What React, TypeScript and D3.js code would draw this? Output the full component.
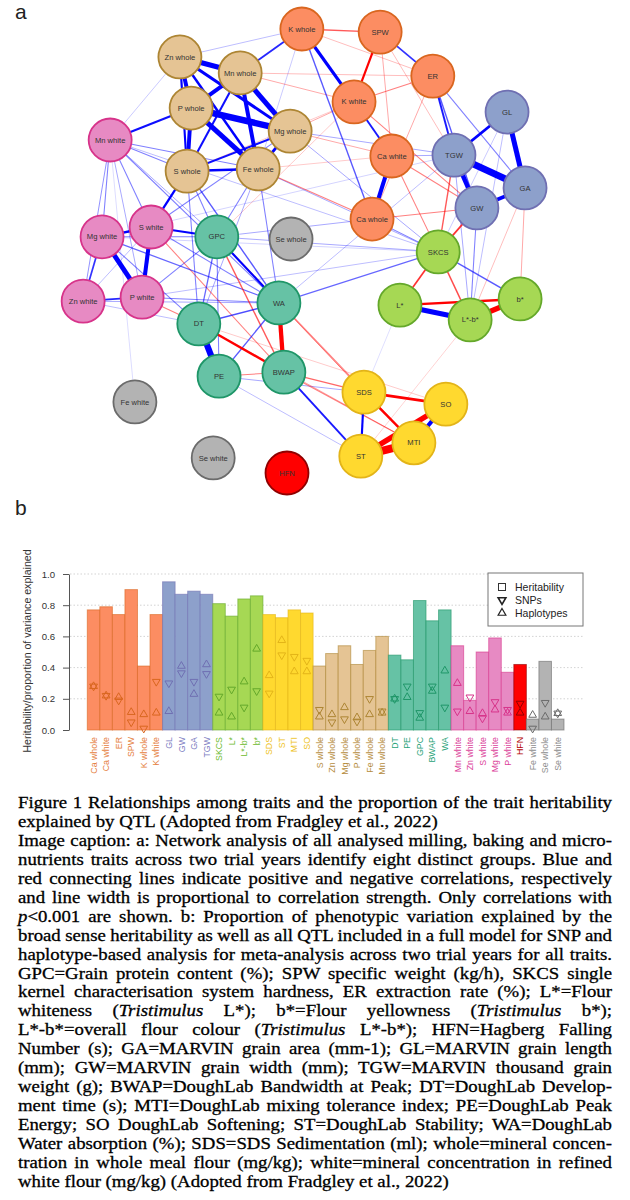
import { useEffect, useRef } from "react";
import * as d3 from "d3";

// ---- network data (layout units 0..100) ----
const nodeNames = [
  "K whole", "Zn whole", "Mn whole", "P whole", "Mg whole", "Mn white", "S whole", "Fe whole",
  "S white", "Mg white", "GPC", "Se whole", "SPW", "ER", "K white", "GL", "TGW", "Ca white",
  "GA", "GW", "Ca whole", "Zn white", "P white", "DT", "WA", "PE", "BWAP", "Fe white",
  "Se white", "HFN", "SKCS", "L*", "L*-b*", "b*", "SDS", "SO", "MTI", "ST",
];
const nodeGroups = [
  "orange", "tan", "tan", "tan", "tan", "pink", "tan", "tan",
  "pink", "pink", "teal", "gray", "orange", "orange", "orange", "blue", "blue", "orange",
  "blue", "blue", "orange", "pink", "pink", "teal", "teal", "teal", "teal", "gray",
  "gray", "red", "green", "green", "green", "green", "yellow", "yellow", "yellow", "yellow",
];
const layoutX = [
  49.3, 22.2, 35.6, 24.7, 46.7, 6.7, 23.8, 39.6,
  15.8, 4.9, 30.4, 46.9, 66.7, 78.4, 60.9, 94.9, 83.1, 69.3,
  98.9, 88.2, 64.9, 0.7, 13.8, 26.4, 44.2, 30.9, 45.3, 12.2,
  29.6, 46.0, 79.6, 71.1, 86.7, 97.8, 63.1, 81.3, 74.2, 62.4,
];
const layoutY = [
  0, 6.3, 9.9, 17.8, 23.0, 25.0, 32.0, 31.5,
  44.6, 46.8, 46.8, 47.3, 0.7, 10.6, 16.4, 18.7, 28.4, 28.6,
  35.8, 40.3, 42.8, 61.3, 60.4, 66.4, 61.7, 78.2, 77.3, 84.0,
  96.6, 100, 50.2, 62.2, 65.5, 60.8, 81.8, 84.5, 93.2, 96.2,
];

// correlations (sign = direction, magnitude = strength)
const edges: [string, string, number][] = [
  ["Zn whole", "Mn whole", 0.67], ["Zn whole", "P whole", 0.57], ["Zn whole", "Mg whole", 0.48],
  ["Zn whole", "Fe whole", 0.43], ["Zn whole", "S whole", 0.4], ["Mn whole", "P whole", 0.57],
  ["Mn whole", "Mg whole", 0.67], ["Mn whole", "Fe whole", 0.57], ["Mn whole", "S whole", 0.39],
  ["P whole", "Mg whole", 0.8], ["P whole", "Fe whole", 0.67], ["P whole", "S whole", 0.57],
  ["Mg whole", "Fe whole", 0.48], ["Mg whole", "S whole", 0.39], ["S whole", "Fe whole", 0.43],
  ["K whole", "Mn whole", 0.37], ["K whole", "Zn whole", 0.27], ["Mn white", "P whole", 0.39],
  ["Mn white", "Zn whole", 0.26], ["S whole", "S white", 0.41], ["S whole", "GPC", 0.3],
  ["Fe whole", "GPC", 0.3], ["Mn whole", "K white", -0.28], ["K whole", "Fe whole", 0.26],
  ["K whole", "SPW", -0.33], ["K whole", "K white", 0.5], ["SPW", "K white", -0.4],
  ["SPW", "ER", 0.36], ["K white", "Ca white", 0.38], ["Ca white", "Ca whole", 0.58],
  ["K white", "ER", -0.3], ["K whole", "ER", -0.27], ["SPW", "Ca white", -0.28],
  ["SPW", "TGW", -0.27], ["ER", "Ca whole", -0.28], ["ER", "TGW", 0.38], ["ER", "GW", 0.33],
  ["ER", "GA", 0.3], ["K whole", "Ca whole", 0.33], ["K white", "GW", -0.3],
  ["Ca white", "GW", -0.3], ["Ca white", "SKCS", -0.3], ["Ca whole", "GW", -0.3],
  ["Ca white", "TGW", 0.28], ["Ca whole", "SKCS", 0.3],
  ["GL", "TGW", 0.45], ["GL", "GA", 0.67], ["TGW", "GA", 0.85], ["TGW", "GW", 0.62],
  ["GW", "GA", 0.55], ["TGW", "SKCS", -0.33], ["GW", "SKCS", -0.36], ["GW", "L*-b*", 0.3],
  ["GA", "b*", -0.28], ["TGW", "L*-b*", 0.28], ["GL", "L*-b*", 0.27], ["GL", "SKCS", 0.26],
  ["GA", "L*-b*", -0.27],
  ["SKCS", "L*", -0.36], ["SKCS", "L*-b*", -0.34], ["SKCS", "b*", 0.33], ["L*", "L*-b*", 0.67],
  ["L*-b*", "b*", -0.7], ["L*", "b*", -0.42], ["SKCS", "WA", 0.32], ["SKCS", "GPC", 0.28],
  ["S white", "Mg white", 0.42], ["S white", "P white", 0.58], ["Mg white", "P white", 0.65],
  ["Mg white", "Zn white", 0.36], ["Zn white", "P white", 0.37], ["Mn white", "Mg white", 0.3],
  ["Mn white", "Zn white", 0.29], ["Mn white", "S white", 0.3], ["Mn white", "P white", 0.28],
  ["S white", "Zn white", 0.27], ["S white", "GPC", 0.4], ["Mg white", "GPC", 0.3],
  ["P white", "GPC", 0.3], ["Fe white", "Mn white", 0.24], ["P white", "WA", 0.3],
  ["P white", "DT", -0.3], ["S white", "BWAP", -0.3], ["Mg white", "WA", 0.32],
  ["Mg white", "DT", 0.3], ["Zn white", "DT", 0.27],
  ["GPC", "WA", 0.4], ["GPC", "DT", 0.32], ["GPC", "PE", 0.3], ["GPC", "BWAP", -0.33],
  ["DT", "PE", 0.78], ["DT", "WA", 0.34], ["DT", "BWAP", -0.42], ["PE", "WA", 0.33],
  ["PE", "BWAP", -0.3], ["WA", "BWAP", -0.6], ["BWAP", "ST", 0.38], ["BWAP", "SDS", -0.32],
  ["PE", "SDS", 0.28], ["WA", "SDS", -0.28], ["BWAP", "MTI", -0.3], ["GPC", "MTI", -0.3],
  ["DT", "MTI", -0.28], ["DT", "SO", -0.26], ["PE", "ST", 0.27], ["WA", "TGW", 0.27],
  ["SDS", "ST", 0.4], ["SDS", "SO", -0.45], ["SDS", "MTI", -0.42], ["ST", "MTI", -0.95],
  ["ST", "SO", -0.7], ["MTI", "SO", 0.58], ["L*", "SDS", 0.22], ["L*-b*", "ST", -0.25],
  ["Mn white", "WA", 0.3], ["Mg white", "TGW", 0.25], ["S white", "Mg whole", 0.3],
  ["P white", "SKCS", 0.27], ["Zn white", "WA", 0.28], ["S whole", "WA", 0.33],
  ["Fe whole", "WA", 0.3], ["Fe whole", "SKCS", 0.28], ["Mg whole", "SKCS", 0.28],
  ["Mg whole", "TGW", 0.28], ["Fe whole", "Ca whole", -0.3], ["Mg whole", "K white", -0.28],
  ["Mg whole", "Ca white", -0.28], ["Mn whole", "ER", -0.27], ["S whole", "K white", -0.26],
  ["Fe whole", "Ca white", -0.26], ["GPC", "Ca whole", 0.28], ["GPC", "K white", -0.26],
  ["Mn white", "GPC", 0.28], ["Mn white", "S whole", 0.3], ["Mn white", "Fe whole", 0.3],
  ["GPC", "SDS", -0.28], ["Mn white", "SKCS", 0.27], ["S whole", "DT", 0.3],
  ["Fe whole", "DT", 0.28], ["S white", "WA", 0.3], ["Mg white", "SKCS", 0.25],
];

// ---- bar chart data ----
const barTraits = [
  "Ca whole", "Ca white", "ER", "SPW", "K whole", "K white", "GL", "GW", "GA", "TGW",
  "SKCS", "L*", "L*-b*", "b*", "SDS", "ST", "MTI", "SO", "S whole", "Zn whole",
  "Mg whole", "P whole", "Fe whole", "Mn whole", "DT", "PE", "GPC", "BWAP", "WA",
  "Mn white", "Zn white", "S white", "Mg white", "P white", "HFN", "Fe white", "Se whole", "Se white",
];
const heritability = [
  0.77, 0.79, 0.74, 0.9, 0.41, 0.74, 0.95, 0.87, 0.89, 0.87,
  0.81, 0.73, 0.84, 0.86, 0.74, 0.72, 0.77, 0.75, 0.41, 0.49,
  0.54, 0.42, 0.51, 0.6, 0.48, 0.45, 0.83, 0.7, 0.77,
  0.54, 0.19, 0.5, 0.59, 0.37, 0.42, 0.07, 0.44, 0.07,
];
const snpVar = [
  0.28, 0.22, 0.19, 0.05, 0.01, 0.31, 0.3, 0.365, 0.31, 0.36,
  0.215, 0.26, 0.145, 0.25, 0.235, 0.48, 0.47, 0.445, 0.13, 0.05,
  0.07, 0.055, 0.2, 0.12, 0.2, 0.28, 0.11, 0.28, 0.145,
  0.12, 0.21, 0.075, 0.18, 0.13, 0.17, 0.01, 0.175, 0.107,
];
const hapVar = [
  0.28, 0.22, 0.21, 0.114, 0.1, 0.11, 0.12, 0.41, 0.23, 0.42,
  0.11, 0.085, 0.31, 0.52, 0.35, 0.575, 0.375, 0.375, 0.085, 0.1,
  0.145, 0.08, 0.1, 0.11, 0.2, 0.21, 0.077, 0.25, 0.38,
  0.3, 0.12, 0.107, 0.13, 0.11, 0.11, 0.096, 0.085, 0.107,
];
const yTicks = [0, 0.2, 0.4, 0.6, 0.8, 1.0];
const legendItems = ["Heritability", "SNPs", "Haplotypes"];

// caption, "_" marks italics
const captionLines = [
  "Figure 1 Relationships among traits and the proportion of the trait heritability",
  "explained by QTL (Adopted from Fradgley et al., 2022)",
  "Image caption: a: Network analysis of all analysed milling, baking and micro-",
  "nutrients traits across two trial years identify eight distinct groups. Blue and",
  "red connecting lines indicate positive and negative correlations, respectively",
  "and line width is proportional to correlation strength. Only correlations with",
  "_p_<0.001 are shown. b: Proportion of phenotypic variation explained by the",
  "broad sense heritability as well as all QTL included in a full model for SNP and",
  "haplotype-based analysis for meta-analysis across two trial years for all traits.",
  "GPC=Grain protein content (%); SPW specific weight (kg/h), SKCS single",
  "kernel characterisation system hardness, ER extraction rate (%); L*=Flour",
  "whiteness (_Tristimulus_ L*); b*=Flour yellowness (_Tristimulus_ b*);",
  "L*-b*=overall flour colour (_Tristimulus_ L*-b*); HFN=Hagberg Falling",
  "Number (s); GA=MARVIN grain area (mm-1); GL=MARVIN grain length",
  "(mm); GW=MARVIN grain width (mm); TGW=MARVIN thousand grain",
  "weight (g); BWAP=DoughLab Bandwidth at Peak; DT=DoughLab Develop-",
  "ment time (s); MTI=DoughLab mixing tolerance index; PE=DoughLab Peak",
  "Energy; SO DoughLab Softening; ST=DoughLab Stability; WA=DoughLab",
  "Water absorption (%); SDS=SDS Sedimentation (ml); whole=mineral concen-",
  "tration in whole meal flour (mg/kg); white=mineral concentration in refined",
  "white flour (mg/kg) (Adopted from Fradgley et al., 2022)",
];
const lastLines = [1, 20];

const palette: Record<string, { fill: string; stroke: string; text: string }> = {
  orange: { fill: "#fc8d62", stroke: "#d9661f", text: "#e57e3c" },
  blue: { fill: "#8da0cb", stroke: "#6f6fb2", text: "#7d7dc2" },
  green: { fill: "#a6d854", stroke: "#64a82a", text: "#6cbb2c" },
  yellow: { fill: "#ffd92f", stroke: "#e3b418", text: "#eec21c" },
  tan: { fill: "#e5c494", stroke: "#ad8533", text: "#b58c3c" },
  teal: { fill: "#66c2a5", stroke: "#1f9668", text: "#27a277" },
  pink: { fill: "#e78ac3", stroke: "#d7338a", text: "#db3f9a" },
  red: { fill: "#ff0000", stroke: "#900000", text: "#b30000" },
  gray: { fill: "#b3b3b3", stroke: "#6b6b6b", text: "#8c8c8c" },
};

// pick the first installed family that differs from the DejaVu fallback
function pickFont(svg: d3.Selection<SVGSVGElement, unknown, null, undefined>, names: string[], fallback: string) {
  const probe = svg.append("text").attr("font-size", 40).attr("x", -9999).attr("y", -9999)
    .text("Relationships among traits 0123 QTL");
  const measure = (f: string) => {
    probe.attr("font-family", f);
    return (probe.node() as SVGTextElement).getComputedTextLength();
  };
  const base = measure(`"${fallback}"`);
  let found = names[0];
  for (const n of names) {
    if (Math.abs(measure(`"${n}"`) - base) > 1) { found = n; break; }
  }
  probe.remove();
  return `"${found}", ${names.map((n) => `"${n}"`).join(", ")}`;
}

export default function App() {
  const ref = useRef<SVGSVGElement>(null);

  useEffect(() => {
    if (!ref.current) return;
    const svg = d3.select(ref.current);
    svg.selectAll("*").remove();

    const SANS = pickFont(svg, ["Liberation Sans", "Arial", "Helvetica", "Arimo"], "DejaVu Sans") + ", sans-serif";
    const SERIF = pickFont(svg, ["Liberation Serif", "Times New Roman", "Times", "Tinos"], "DejaVu Serif") + ", serif";

    svg.append("rect").attr("width", 630).attr("height", 1200).attr("fill", "#fff");

    // panel letters
    svg.append("text").attr("x", 15).attr("y", 19).text("a")
      .attr("font-family", SANS).attr("font-size", 21).attr("fill", "#222");
    svg.append("text").attr("x", 15).attr("y", 515).text("b")
      .attr("font-family", SANS).attr("font-size", 21).attr("fill", "#222");

    // ---------- network ----------
    const xs = d3.scaleLinear().domain([0, 100]).range([80, 530]);
    const ys = d3.scaleLinear().domain([0, 100]).range([29, 473]);
    const idx = new Map(nodeNames.map((n, i) => [n, i]));
    const R = 21.5;

    const net = svg.append("g");
    const sorted = [...edges].sort((a, b) => Math.abs(a[2]) - Math.abs(b[2]));
    net.append("g").selectAll("line").data(sorted).join("line")
      .attr("x1", (d) => xs(layoutX[idx.get(d[0])!]))
      .attr("y1", (d) => ys(layoutY[idx.get(d[0])!]))
      .attr("x2", (d) => xs(layoutX[idx.get(d[1])!]))
      .attr("y2", (d) => ys(layoutY[idx.get(d[1])!]))
      .attr("stroke", (d) => (d[2] > 0 ? "#0000ff" : "#ff0000"))
      .attr("stroke-width", (d) => Math.max(0.7, (Math.abs(d[2]) - 0.2) * 10.7))
      .attr("stroke-opacity", (d) => Math.min(1, Math.max(0.18, (Math.abs(d[2]) - 0.2) * 5)))
      .attr("stroke-linecap", "butt");

    const nodes = net.append("g").selectAll("g").data(nodeNames).join("g")
      .attr("transform", (_d, i) => `translate(${xs(layoutX[i])},${ys(layoutY[i])})`);
    nodes.append("circle").attr("r", R)
      .attr("fill", (_d, i) => palette[nodeGroups[i]].fill)
      .attr("stroke", (_d, i) => palette[nodeGroups[i]].stroke)
      .attr("stroke-width", 1.8);
    nodes.append("text").text((d) => d)
      .attr("text-anchor", "middle").attr("dy", "0.35em")
      .attr("font-family", SANS).attr("font-size", 7.6).attr("fill", "#333");

    // ---------- bar chart ----------
    const groupOf = new Map(nodeNames.map((n, i) => [n, nodeGroups[i]]));
    const x = d3.scaleBand().domain(barTraits).range([87.3, 564]).padding(0);
    const y = d3.scaleLinear().domain([0, 1]).range([730, 574]);
    const bc = svg.append("g");

    bc.append("g").selectAll("line").data(yTicks.slice(1)).join("line")
      .attr("x1", 70).attr("x2", 583)
      .attr("y1", (d) => y(d)).attr("y2", (d) => y(d))
      .attr("stroke", "#c8c8c8").attr("stroke-width", 0.8).attr("stroke-dasharray", "1.5,2");

    bc.append("g").selectAll("rect").data(barTraits).join("rect")
      .attr("x", (d) => x(d)!)
      .attr("width", x.bandwidth())
      .attr("y", (_d, i) => y(heritability[i]))
      .attr("height", (_d, i) => y(0) - y(heritability[i]))
      .attr("fill", (d) => palette[groupOf.get(d)!].fill)
      .attr("stroke", (d) => palette[groupOf.get(d)!].stroke)
      .attr("stroke-opacity", 0.6)
      .attr("stroke-width", 1);

    const tri = d3.symbol(d3.symbolTriangle, 26);
    const markers = bc.append("g");
    markers.selectAll("path.snp").data(barTraits).join("path").attr("class", "snp")
      .attr("d", tri)
      .attr("transform", (d, i) => `translate(${x(d)! + x.bandwidth() / 2},${y(snpVar[i])}) rotate(180)`)
      .attr("fill", "none")
      .attr("stroke", (d) => palette[groupOf.get(d)!].stroke).attr("stroke-width", 1);
    markers.selectAll("path.hap").data(barTraits).join("path").attr("class", "hap")
      .attr("d", tri)
      .attr("transform", (d, i) => `translate(${x(d)! + x.bandwidth() / 2},${y(hapVar[i])})`)
      .attr("fill", "none")
      .attr("stroke", (d) => palette[groupOf.get(d)!].stroke).attr("stroke-width", 1);

    const axis = bc.append("g").attr("transform", "translate(69,0)")
      .call(d3.axisLeft(y).tickValues(yTicks).tickFormat(d3.format(".1f"))
        .tickSize(6).tickSizeOuter(0).tickPadding(8));
    axis.selectAll(".domain, .tick line").attr("stroke", "#555");
    axis.selectAll("text").attr("font-family", SANS).attr("font-size", 9.6).attr("fill", "#333");

    bc.append("text").attr("transform", "translate(31,651) rotate(-90)")
      .attr("text-anchor", "middle").attr("font-family", SANS).attr("font-size", 10.6)
      .attr("fill", "#333").text("Heritability/proportion of variance explained");

    bc.append("g").selectAll("text").data(barTraits).join("text")
      .attr("transform", (d) => `translate(${x(d)! + x.bandwidth() / 2 + 3.2},737) rotate(-90)`)
      .attr("text-anchor", "end").attr("font-family", SANS).attr("font-size", 8.8)
      .attr("fill", (d) => palette[groupOf.get(d)!].text).text((d) => d);

    // legend
    const lg = bc.append("g");
    lg.append("rect").attr("x", 488).attr("y", 573).attr("width", 95).attr("height", 53)
      .attr("fill", "#fff").attr("stroke", "#777").attr("stroke-width", 1);
    lg.append("rect").attr("x", 498.5).attr("y", 583.5).attr("width", 7).attr("height", 7)
      .attr("fill", "none").attr("stroke", "#333").attr("stroke-width", 1);
    lg.append("path").attr("d", tri).attr("transform", "translate(502,600) rotate(180)")
      .attr("fill", "none").attr("stroke", "#222").attr("stroke-width", 1.6);
    lg.append("path").attr("d", tri).attr("transform", "translate(502,613)")
      .attr("fill", "none").attr("stroke", "#222").attr("stroke-width", 1.2);
    lg.selectAll("text").data(legendItems).join("text")
      .attr("x", 515).attr("y", (_d, i) => 591 + i * 13)
      .attr("font-family", SANS).attr("font-size", 10.5).attr("fill", "#222").text((d) => d);

    // ---------- caption ----------
    const cap = svg.append("g").attr("transform", "translate(18,0)");
    const texts = captionLines.map((line, i) => {
      const t = cap.append("text").attr("x", 0).attr("y", 808 + i * 18.95)
        .attr("font-family", SERIF).attr("font-size", 17).attr("fill", "#000")
        .attr("stroke", "#000").attr("stroke-width", 0.3);
      line.split("_").forEach((seg, k) => {
        if (!seg) return;
        t.append("tspan").attr("font-style", k % 2 ? "italic" : "normal").text(seg);
      });
      return t;
    });
    const w1 = (texts[1].node() as SVGTextElement).getComputedTextLength();
    const w20 = (texts[20].node() as SVGTextElement).getComputedTextLength();
    let sx = (422 / w1 + 429 / w20) / 2;
    sx = Math.max(0.8, Math.min(1.25, sx));
    cap.attr("transform", `translate(18,0) scale(${sx},1)`);
    texts.forEach((t, i) => {
      if (lastLines.includes(i)) return;
      const node = t.node() as SVGTextElement;
      const nat = node.getComputedTextLength();
      const spaces = (captionLines[i].match(/ /g) || []).length;
      if (spaces > 0) t.style("word-spacing", `${(594 / sx - nat) / spaces}px`);
    });
  }, []);

  return (
    <svg
      ref={ref}
      width={630}
      height={1200}
      style={{ position: "absolute", left: 0, top: 0, display: "block" }}
    />
  );
}
